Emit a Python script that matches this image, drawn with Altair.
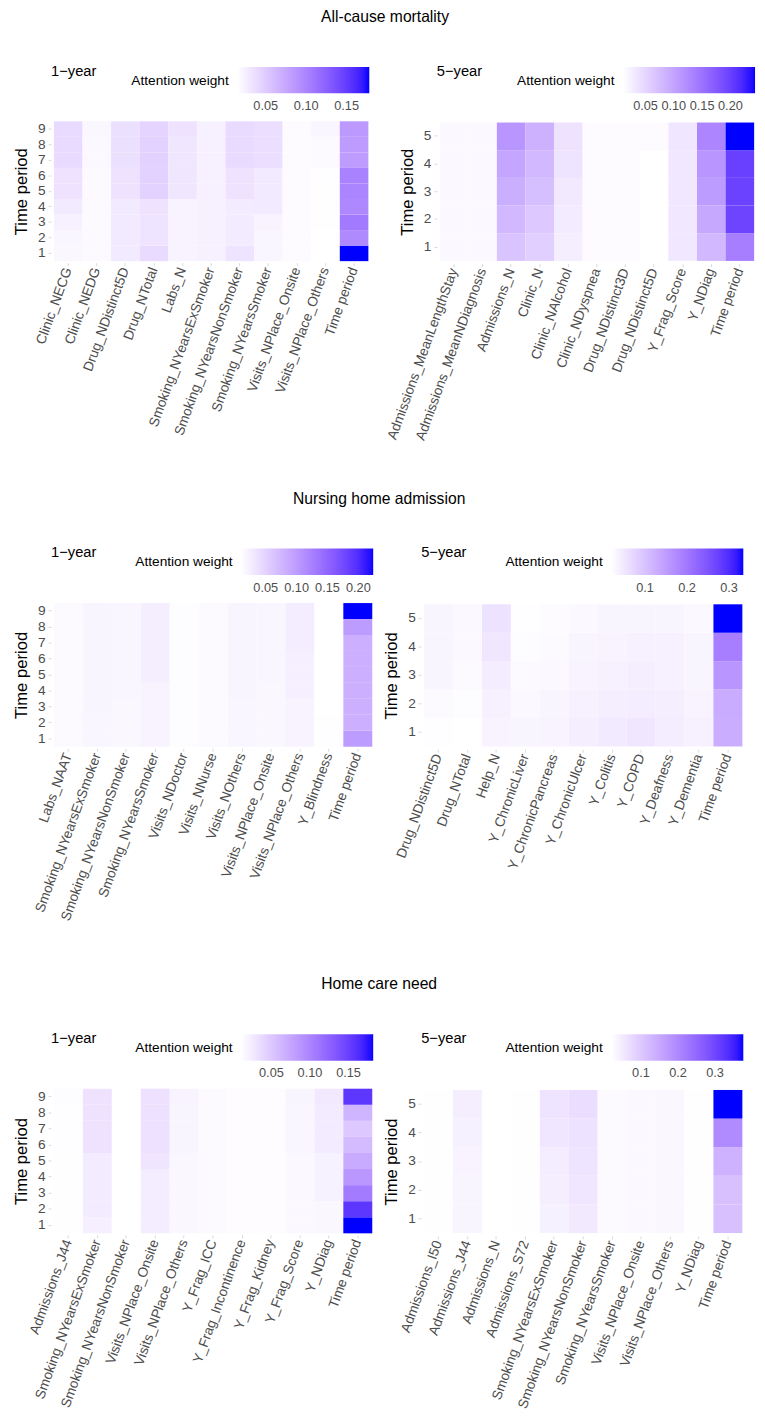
import altair as alt
import pandas as pd

FONT = "Liberation Sans"

# ---------------- All-cause mortality, 1-year (periods 1..9) ----------------
mort1_features = ["Clinic_NECG", "Clinic_NEDG", "Drug_NDistinct5D", "Drug_NTotal", "Labs_N",
                  "Smoking_NYearsExSmoker", "Smoking_NYearsNonSmoker", "Smoking_NYearsSmoker",
                  "Visits_NPlace_Onsite", "Visits_NPlace_Others", "Time period"]
mort1_values = [
    [0.020, 0.021, 0.024, 0.029, 0.034, 0.034, 0.039, 0.039, 0.039],
    [0.018, 0.018, 0.018, 0.018, 0.018, 0.018, 0.019, 0.019, 0.020],
    [0.029, 0.029, 0.029, 0.029, 0.034, 0.034, 0.036, 0.036, 0.036],
    [0.039, 0.033, 0.033, 0.034, 0.046, 0.046, 0.046, 0.046, 0.044],
    [0.023, 0.023, 0.023, 0.023, 0.031, 0.031, 0.031, 0.031, 0.034],
    [0.024, 0.024, 0.024, 0.025, 0.025, 0.025, 0.024, 0.024, 0.025],
    [0.033, 0.028, 0.028, 0.028, 0.034, 0.034, 0.039, 0.039, 0.039],
    [0.021, 0.021, 0.023, 0.029, 0.029, 0.029, 0.037, 0.037, 0.037],
    [0.017, 0.017, 0.017, 0.017, 0.017, 0.017, 0.017, 0.017, 0.017],
    [0.0146, 0.0146, 0.015, 0.015, 0.015, 0.016, 0.018, 0.018, 0.021],
    [0.178, 0.096, 0.107, 0.097, 0.100, 0.101, 0.084, 0.083, 0.085],
]

# ---------------- All-cause mortality, 5-year (periods 1..5) ----------------
mort5_features = ["Admissions_MeanLengthStay", "Admissions_MeanNDiagnosis", "Admissions_N", "Clinic_N",
                  "Clinic_NAlcohol", "Clinic_NDyspnea", "Drug_NDistinct3D", "Drug_NDistinct5D",
                  "Y_Frag_Score", "Y_NDiag", "Time period"]
mort5_values = [
    [0.016, 0.016, 0.016, 0.016, 0.016],
    [0.016, 0.016, 0.016, 0.016, 0.016],
    [0.068, 0.080, 0.089, 0.099, 0.115],
    [0.057, 0.064, 0.073, 0.080, 0.087],
    [0.026, 0.029, 0.031, 0.036, 0.038],
    [0.0135, 0.0135, 0.0135, 0.0135, 0.0135],
    [0.0135, 0.0135, 0.0135, 0.0135, 0.0135],
    [0.010, 0.010, 0.010, 0.010, 0.0135],
    [0.032, 0.032, 0.033, 0.033, 0.034],
    [0.080, 0.096, 0.108, 0.115, 0.131],
    [0.138, 0.196, 0.198, 0.200, 0.2435],
]

# ---------------- Nursing home admission, 1-year ----------------
nurs1_features = ["Labs_NAAT", "Smoking_NYearsExSmoker", "Smoking_NYearsNonSmoker", "Smoking_NYearsSmoker",
                  "Visits_NDoctor", "Visits_NNurse", "Visits_NOthers", "Visits_NPlace_Onsite",
                  "Visits_NPlace_Others", "Y_Blindness", "Time period"]
nurs1_values = [
    [0.014, 0.014, 0.014, 0.014, 0.014, 0.014, 0.014, 0.014, 0.015],
    [0.018, 0.018, 0.019, 0.019, 0.019, 0.019, 0.019, 0.019, 0.019],
    [0.017, 0.017, 0.017, 0.018, 0.018, 0.018, 0.018, 0.018, 0.018],
    [0.021, 0.021, 0.021, 0.021, 0.025, 0.025, 0.025, 0.025, 0.025],
    [0.013, 0.013, 0.013, 0.013, 0.013, 0.013, 0.013, 0.013, 0.013],
    [0.015, 0.015, 0.015, 0.015, 0.015, 0.015, 0.015, 0.015, 0.015],
    [0.018, 0.018, 0.018, 0.019, 0.019, 0.019, 0.019, 0.019, 0.019],
    [0.017, 0.017, 0.017, 0.017, 0.018, 0.018, 0.018, 0.018, 0.018],
    [0.021, 0.021, 0.021, 0.024, 0.024, 0.024, 0.027, 0.027, 0.027],
    [0.012, 0.011, 0.010, 0.010, 0.010, 0.010, 0.010, 0.010, 0.010],
    [0.100, 0.081, 0.081, 0.081, 0.081, 0.081, 0.081, 0.100, 0.224],
]

# ---------------- Nursing home admission, 5-year ----------------
nurs5_features = ["Drug_NDistinct5D", "Drug_NTotal", "Help_N", "Y_ChronicLiver", "Y_ChronicPancreas",
                  "Y_ChronicUlcer", "Y_Colitis", "Y_COPD", "Y_Deafness", "Y_Dementia", "Time period"]
nurs5_values = [
    [0.021, 0.025, 0.032, 0.032, 0.032],
    [0.019, 0.023, 0.026, 0.027, 0.027],
    [0.035, 0.039, 0.044, 0.051, 0.057],
    [0.032, 0.027, 0.025, 0.023, 0.021],
    [0.035, 0.032, 0.028, 0.025, 0.024],
    [0.041, 0.038, 0.035, 0.032, 0.028],
    [0.047, 0.041, 0.038, 0.035, 0.032],
    [0.051, 0.044, 0.041, 0.038, 0.032],
    [0.044, 0.041, 0.038, 0.038, 0.032],
    [0.038, 0.035, 0.032, 0.032, 0.028],
    [0.128, 0.130, 0.160, 0.192, 0.334],
]

# ---------------- Home care need, 1-year ----------------
home1_features = ["Admissions_J44", "Smoking_NYearsExSmoker", "Smoking_NYearsNonSmoker", "Visits_NPlace_Onsite",
                  "Visits_NPlace_Others", "Y_Frag_ICC", "Y_Frag_Incontinence", "Y_Frag_Kidney",
                  "Y_Frag_Score", "Y_NDiag", "Time period"]
home1_values = [
    [0.0115, 0.0115, 0.0115, 0.0115, 0.0115, 0.012, 0.012, 0.012, 0.013],
    [0.022, 0.025, 0.025, 0.025, 0.025, 0.031, 0.031, 0.031, 0.031],
    [0.0106, 0.0106, 0.0106, 0.0106, 0.0106, 0.0106, 0.0106, 0.0106, 0.0106],
    [0.024, 0.024, 0.024, 0.024, 0.029, 0.032, 0.032, 0.032, 0.032],
    [0.016, 0.016, 0.016, 0.016, 0.016, 0.018, 0.018, 0.018, 0.019],
    [0.014, 0.014, 0.014, 0.014, 0.014, 0.014, 0.014, 0.014, 0.014],
    [0.0124, 0.0124, 0.0124, 0.0124, 0.0124, 0.0124, 0.0124, 0.0124, 0.0124],
    [0.0124, 0.0124, 0.0124, 0.0124, 0.0124, 0.0124, 0.0124, 0.0124, 0.0124],
    [0.015, 0.015, 0.015, 0.015, 0.015, 0.017, 0.017, 0.017, 0.018],
    [0.016, 0.016, 0.020, 0.020, 0.020, 0.025, 0.025, 0.025, 0.026],
    [0.182, 0.156, 0.107, 0.086, 0.072, 0.060, 0.050, 0.065, 0.156],
]

# ---------------- Home care need, 5-year ----------------
home5_features = ["Admissions_I50", "Admissions_J44", "Admissions_N", "Admissions_S72",
                  "Smoking_NYearsExSmoker", "Smoking_NYearsNonSmoker", "Smoking_NYearsSmoker",
                  "Visits_NPlace_Onsite", "Visits_NPlace_Others", "Y_NDiag", "Time period"]
home5_values = [
    [0.021, 0.021, 0.021, 0.021, 0.021],
    [0.034, 0.034, 0.038, 0.041, 0.045],
    [0.0196, 0.0196, 0.0196, 0.0196, 0.0196],
    [0.021, 0.021, 0.021, 0.021, 0.021],
    [0.041, 0.045, 0.048, 0.056, 0.059],
    [0.052, 0.056, 0.059, 0.063, 0.070],
    [0.027, 0.027, 0.027, 0.027, 0.027],
    [0.029, 0.029, 0.029, 0.029, 0.029],
    [0.032, 0.032, 0.032, 0.032, 0.032],
    [0.021, 0.021, 0.021, 0.021, 0.021],
    [0.113, 0.113, 0.135, 0.196, 0.376],
]

row_titles = ["All-cause mortality", "Nursing home admission", "Home care need"]
panel_titles = ["1\u2212year", "5\u2212year"]
ticks_005 = [0.05, 0.10, 0.15]
ticks_005b = [0.05, 0.10, 0.15, 0.20]
ticks_01 = [0.1, 0.2, 0.3]


def build_df(features, values):
    recs = []
    for f, vals in zip(features, values):
        for i, v in enumerate(vals, start=1):
            recs.append({"feature": f, "period": i, "weight": v})
    return pd.DataFrame(recs)


def panel(features, values, subtitle, legend_ticks, fmt, width, height):
    df = build_df(features, values)
    lo = float(df["weight"].min())
    hi = float(df["weight"].max())
    return alt.Chart(
        df,
        title=alt.Title(subtitle, anchor="start", frame="group", fontSize=15, fontWeight="normal",
                        font=FONT, color="black", offset=-24, baseline="alphabetic"),
    ).mark_rect().encode(
        x=alt.X("feature:N", sort=features, title=None,
                scale=alt.Scale(paddingInner=0, paddingOuter=0.1),
                axis=alt.Axis(labelAngle=-70, labelAlign="right", labelBaseline="middle",
                              labelFontSize=14, labelColor="#4d4d4d", labelLimit=300,
                              tickColor="#d9d9d9", tickSize=3, labelPadding=2,
                              domain=False, grid=False)),
        y=alt.Y("period:O", sort="descending", title="Time period",
                scale=alt.Scale(paddingInner=0, paddingOuter=0.1),
                axis=alt.Axis(labelFontSize=14, labelColor="#4d4d4d", labelAngle=0,
                              tickColor="#d9d9d9", tickSize=3, labelPadding=3,
                              titleFontSize=17, titleFontWeight="normal", titleColor="black",
                              titlePadding=7, domain=False, grid=False)),
        color=alt.Color("weight:Q",
                        scale=alt.Scale(domain=[lo, hi], range=["#ffffff", "#0000ff"], interpolate="lab"),
                        legend=alt.Legend(title="Attention weight", orient="none",
                                          legendX=width - 245, legendY=-54,
                                          direction="horizontal", gradientLength=135,
                                          gradientThickness=27, gradientStrokeWidth=0,
                                          titleOrient="left", titleAnchor="middle",
                                          titleBaseline="middle", titlePadding=8,
                                          titleFontSize=14, titleFontWeight="normal",
                                          titleColor="black", labelFontSize=13, labelOffset=7,
                                          labelColor="#4d4d4d", values=legend_ticks,
                                          format=fmt)),
    ).properties(width=width, height=height)


def row(title, left, right, spacing):
    return alt.hconcat(
        left, right, spacing=spacing,
        title=alt.Title(title, anchor="middle", fontSize=16, fontWeight="normal", font=FONT,
                        color="black", offset=27, baseline="alphabetic"),
    ).resolve_scale(x="independent", y="independent", color="independent")


r1 = row(row_titles[0],
         panel(mort1_features, mort1_values, panel_titles[0], ticks_005, ".2f", 327, 146),
         panel(mort5_features, mort5_values, panel_titles[1], ticks_005b, ".2f", 327, 147), 14)
r2 = row(row_titles[1],
         panel(nurs1_features, nurs1_values, panel_titles[0], ticks_005b, ".2f", 331, 150),
         panel(nurs5_features, nurs5_values, panel_titles[1], ticks_01, ".1f", 331, 151), 8)
r3 = row(row_titles[2],
         panel(home1_features, home1_values, panel_titles[0], ticks_005, ".2f", 331, 151),
         panel(home5_features, home5_values, panel_titles[1], ticks_01, ".1f", 331, 152), 8)

lower = alt.vconcat(r2, r3, spacing=54).resolve_scale(
    x="independent", y="independent", color="independent")

chart = alt.vconcat(r1, lower, spacing=49).resolve_scale(
    x="independent", y="independent", color="independent"
).properties(
    padding={"left": 5, "top": -14, "right": 0, "bottom": 0}
).configure(font=FONT).configure_view(stroke=None)

chart.save("out.html", embed_options={"renderer": "svg", "actions": False})
